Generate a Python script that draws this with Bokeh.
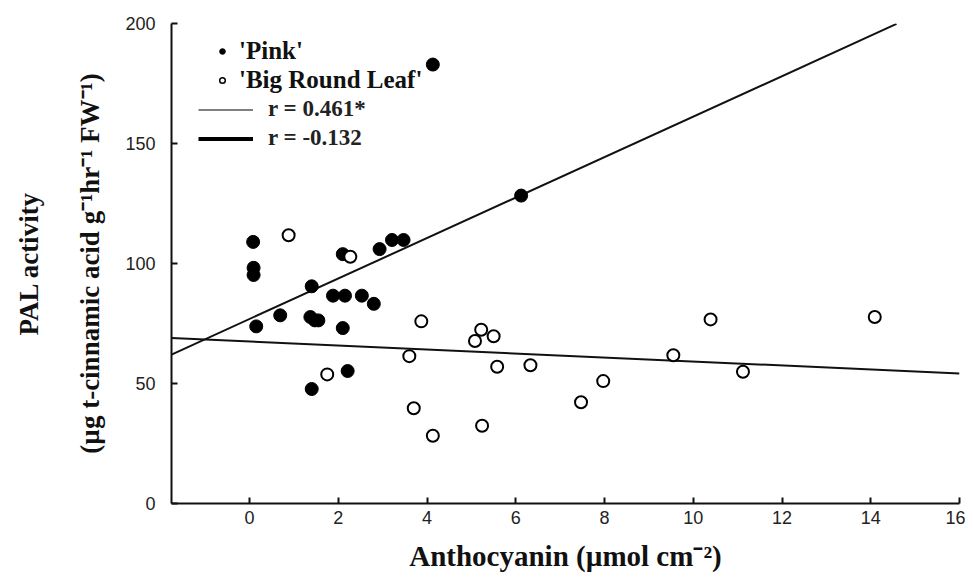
from bokeh.plotting import figure
from bokeh.models import Range1d, Legend, LegendItem, Title, FixedTicker
from bokeh.embed import file_html
from bokeh.resources import INLINE

# ---- data ----
pink_x = [0.08, 0.09, 0.09, 0.15, 0.69, 1.40, 1.37, 1.47, 1.55, 2.10, 1.88, 2.15,
          2.53, 2.80, 2.10, 2.93, 3.21, 3.47, 6.12, 2.21, 1.40, 4.13]
pink_y = [109.0, 98.2, 95.2, 73.8, 78.4, 90.5, 77.7, 76.3, 76.3, 103.9, 86.6, 86.6,
          86.6, 83.2, 73.1, 106.0, 109.8, 109.8, 128.3, 55.2, 47.7, 182.9]

brl_x = [0.88, 2.27, 3.87, 5.22, 5.08, 5.50, 3.60, 5.58, 6.33, 1.75, 3.70, 5.24,
         4.13, 7.97, 7.47, 9.55, 10.39, 11.12, 14.09]
brl_y = [111.8, 102.8, 75.9, 72.4, 67.7, 69.7, 61.4, 57.0, 57.6, 53.8, 39.7, 32.4,
         28.2, 51.0, 42.2, 61.8, 76.7, 54.9, 77.7]

# regression lines: slope, intercept, x extent
pink_fit = {"slope": 8.43, "intercept": 76.9, "x": [-1.76, 14.58]}
brl_fit = {"slope": -0.833, "intercept": 67.5, "x": [-1.76, 16.0]}

x_ticks = [0, 2, 4, 6, 8, 10, 12, 14, 16]
y_ticks = [0, 50, 100, 150, 200]

legend_names = ["'Pink'", "'Big Round Leaf'"]
legend_r = ["r = 0.461*", "r = -0.132"]

SERIF = "Liberation Serif"
SANS = "Liberation Sans"
NAN = float("nan")

p = figure(width=965, height=574, output_backend="svg", toolbar_location=None,
           x_range=Range1d(-1.76, 16.0), y_range=Range1d(0, 200),
           min_border_left=170, min_border_right=6, min_border_top=23,
           min_border_bottom=68)
p.outline_line_color = None
p.xgrid.visible = False
p.ygrid.visible = False

for ax in (p.xaxis[0], p.yaxis[0]):
    ax.axis_line_width = 2
    ax.axis_line_color = "#111111"
    ax.major_tick_line_width = 2
    ax.major_tick_line_color = "#111111"
    ax.major_tick_in = 6
    ax.major_tick_out = 0
    ax.minor_tick_line_color = None
    ax.major_label_text_font = SANS
    ax.major_label_text_font_size = "18px"
    ax.major_label_text_color = "#222222"

p.xaxis.ticker = FixedTicker(ticks=x_ticks)
p.yaxis.ticker = FixedTicker(ticks=y_ticks)
p.xaxis.major_label_standoff = 7
p.yaxis.major_label_standoff = 16

p.xaxis.axis_label = "Anthocyanin (\u00b5mol cm\u207b\u00b2)"
p.xaxis.axis_label_text_font = SERIF
p.xaxis.axis_label_text_font_style = "bold"
p.xaxis.axis_label_text_font_size = "29px"
p.xaxis.axis_label_text_color = "#111111"
p.xaxis.axis_label_standoff = 13

t2 = Title(text="(\u00b5g t-cinnamic acid g\u207b\u00b9hr\u207b\u00b9 FW\u207b\u00b9)",
           align="center", text_font=SERIF, text_font_style="bold",
           text_font_size="27px", text_color="#111111", standoff=36)
t1 = Title(text="PAL activity", align="center", text_font=SERIF,
           text_font_style="bold", text_font_size="27px", text_color="#111111",
           standoff=22)
p.add_layout(t2, "left")
p.add_layout(t1, "left")

# regression lines
for fit in (pink_fit, brl_fit):
    xs = fit["x"]
    ys = [fit["intercept"] + fit["slope"] * v for v in xs]
    p.line(xs, ys, line_color="#111111", line_width=2)

p.scatter(pink_x, pink_y, size=13, fill_color="black", line_color="black")
p.scatter(brl_x, brl_y, size=12, fill_color="white", line_color="black",
          line_width=2)

# legend helper renderers (nothing visible in the plot area)
lg_pink = p.scatter([NAN], [NAN], size=10, fill_color="black", line_color="black")
lg_brl = p.scatter([NAN], [NAN], size=9, fill_color="white", line_color="black",
                   line_width=1.5)
lg_thin = p.line([NAN, NAN], [NAN, NAN], line_color="#555555", line_width=1.6)
lg_thick = p.line([NAN, NAN], [NAN, NAN], line_color="black", line_width=4)

leg1 = Legend(items=[LegendItem(label=legend_names[0], renderers=[lg_pink]),
                     LegendItem(label=legend_names[1], renderers=[lg_brl])],
              location=(44, 409), glyph_width=14, glyph_height=14,
              label_height=25, spacing=1, padding=0, margin=0,
              label_standoff=10, background_fill_alpha=0, border_line_alpha=0,
              label_text_font=SERIF, label_text_font_style="bold",
              label_text_font_size="25px", label_text_color="#111111")
leg2 = Legend(items=[LegendItem(label=legend_r[0], renderers=[lg_thin]),
                     LegendItem(label=legend_r[1], renderers=[lg_thick])],
              location=(27, 352), glyph_width=55, glyph_height=23,
              label_height=23, spacing=3, padding=0, margin=0,
              label_standoff=15, background_fill_alpha=0, border_line_alpha=0,
              label_text_font=SERIF, label_text_font_style="bold",
              label_text_font_size="23px", label_text_color="#222222")
p.add_layout(leg1)
p.add_layout(leg2)

open("out.html", "w").write(file_html(p, INLINE))
